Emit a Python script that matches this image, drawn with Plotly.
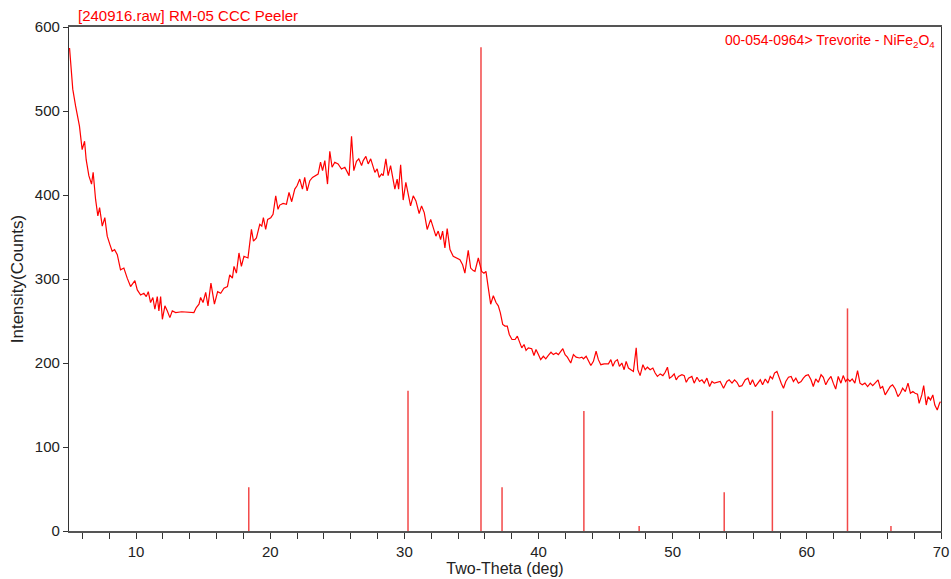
import plotly.graph_objects as go

# Measured pattern (two-theta in deg, intensity in counts)
two_theta = [
    5.04, 5.28, 5.49, 5.78, 5.98, 6.16, 6.28, 6.48, 6.68, 6.80, 6.98, 7.15, 7.28, 7.48, 7.67, 7.85,
    8.05, 8.22, 8.40, 8.60, 8.84, 9.09, 9.34, 9.59, 9.91, 10.09, 10.34, 10.58, 10.76, 10.91, 11.08,
    11.25, 11.40, 11.58, 11.70, 11.83, 11.96, 12.15, 12.33, 12.52, 12.70, 12.95, 13.40, 13.90, 14.31,
    14.49, 14.69, 14.81, 14.99, 15.19, 15.36, 15.58, 15.84, 16.08, 16.31, 16.55, 16.81, 16.98, 17.18,
    17.30, 17.48, 17.67, 17.85, 18.04, 18.34, 18.60, 18.75, 18.97, 19.22, 19.37, 19.49, 19.66, 19.81,
    20.04, 20.21, 20.41, 20.58, 20.71, 20.96, 21.21, 21.40, 21.60, 21.83, 22.00, 22.20, 22.40, 22.57,
    22.75, 22.95, 23.15, 23.40, 23.57, 23.75, 23.90, 24.07, 24.27, 24.44, 24.61, 24.81, 25.06, 25.31,
    25.56, 25.69, 25.88, 26.06, 26.23, 26.43, 26.60, 26.81, 26.93, 27.13, 27.30, 27.49, 27.67, 27.80,
    27.97, 28.12, 28.30, 28.42, 28.62, 28.79, 28.97, 29.12, 29.29, 29.46, 29.57, 29.72, 29.91, 30.11,
    30.28, 30.46, 30.66, 30.86, 31.10, 31.28, 31.48, 31.70, 31.96, 32.15, 32.35, 32.52, 32.70, 32.85,
    33.02, 33.19, 33.40, 33.64, 33.90, 34.14, 34.34, 34.51, 34.76, 34.94, 35.13, 35.26, 35.51, 35.76,
    35.93, 36.08, 36.25, 36.43, 36.63, 36.83, 37.00, 37.15, 37.33, 37.50, 37.67, 37.82, 38.02, 38.25,
    38.42, 38.57, 38.75, 38.92, 39.07, 39.24, 39.49, 39.66, 39.81, 39.99, 40.16, 40.36, 40.54, 40.73,
    40.93, 41.10, 41.31, 41.48, 41.66, 41.81, 41.98, 42.15, 42.40, 42.60, 42.80, 43.05, 43.23, 43.35,
    43.55, 43.72, 43.90, 44.09, 44.29, 44.46, 44.64, 44.89, 45.21, 45.39, 45.54, 45.71, 45.88, 46.03,
    46.21, 46.38, 46.53, 46.70, 46.88, 47.07, 47.28, 47.40, 47.57, 47.78, 47.95, 48.12, 48.32, 48.52,
    48.69, 48.86, 49.07, 49.27, 49.44, 49.61, 49.76, 49.94, 50.11, 50.26, 50.43, 50.69, 50.86, 51.01,
    51.18, 51.43, 51.60, 51.81, 52.00, 52.18, 52.35, 52.55, 52.75, 52.93, 53.10, 53.37, 53.54, 53.79,
    54.04, 54.21, 54.42, 54.61, 54.79, 54.96, 55.16, 55.41, 55.61, 55.78, 55.95, 56.16, 56.36, 56.53,
    56.70, 56.90, 57.10, 57.27, 57.44, 57.59, 57.77, 57.94, 58.09, 58.26, 58.43, 58.63, 58.83, 59.00,
    59.18, 59.37, 59.57, 59.74, 59.92, 60.11, 60.31, 60.48, 60.66, 60.86, 61.06, 61.23, 61.41, 61.60,
    61.80, 61.97, 62.15, 62.34, 62.54, 62.71, 62.89, 63.04, 63.21, 63.38, 63.58, 63.78, 63.96, 64.13,
    64.33, 64.53, 64.73, 64.91, 65.10, 65.31, 65.48, 65.65, 65.84, 66.04, 66.22, 66.39, 66.59, 66.79,
    66.97, 67.14, 67.34, 67.54, 67.72, 67.90, 68.07, 68.25, 68.37, 68.57, 68.71, 68.90, 69.04, 69.22,
    69.39, 69.54, 69.72, 69.89, 69.96,
]
counts = [
    575, 526, 506, 482, 454, 464, 442, 423, 413, 427, 395, 375, 385, 363, 373, 351,
    341, 333, 335, 329, 311, 313, 301, 291, 298, 287, 281, 283, 279, 285, 272,
    278, 264, 279, 262, 279, 252, 268, 262, 254, 262, 260, 261, 260, 260,
    266, 270, 278, 272, 284, 268, 295, 270, 285, 283, 289, 291, 305, 301,
    315, 307, 331, 315, 327, 325, 359, 345, 349, 365, 363, 373, 359, 371,
    373, 377, 399, 383, 388, 390, 389, 403, 392, 407, 411, 419, 407, 421,
    405, 417, 421, 423, 425, 439, 429, 441, 413, 452, 433, 439, 437, 431,
    433, 429, 423, 470, 429, 440, 443, 435, 441, 446, 437, 443, 435, 427,
    431, 421, 425, 423, 443, 423, 435, 420, 407, 419, 407, 436, 394, 415,
    401, 387, 399, 393, 378, 387, 379, 359, 371, 361, 351, 357, 347, 357,
    337, 360, 335, 327, 325, 323, 317, 307, 334, 313, 310, 309, 325, 309,
    307, 309, 290, 270, 280, 272, 268, 260, 246, 244, 244, 234, 228, 228,
    232, 226, 218, 222, 215, 218, 217, 209, 216, 210, 204, 208, 205, 209,
    213, 210, 212, 210, 214, 217, 210, 207, 200, 210, 207, 206, 207, 205,
    208, 202, 197, 202, 214, 204, 198, 199, 199, 204, 196, 202, 204, 196,
    200, 192, 202, 194, 192, 190, 218, 192, 185, 198, 192, 195, 192, 194,
    188, 184, 187, 185, 189, 195, 182, 184, 187, 180, 184, 186, 185, 177,
    182, 184, 176, 183, 178, 180, 176, 182, 172, 178, 176, 177, 178, 170,
    178, 180, 176, 180, 177, 172, 173, 180, 182, 174, 180, 172, 177, 180,
    174, 181, 176, 184, 181, 188, 190, 181, 176, 170, 178, 183, 184, 178,
    182, 176, 178, 182, 185, 186, 180, 172, 181, 177, 186, 183, 174, 180,
    184, 176, 169, 184, 176, 185, 178, 181, 178, 181, 176, 191, 176, 174,
    176, 172, 176, 173, 177, 180, 170, 172, 162, 168, 172, 174, 169, 160,
    164, 170, 166, 176, 164, 166, 164, 163, 152, 162, 173, 150, 160, 156,
    162, 150, 144, 152, 154,
]

# Reference pattern 00-054-0964 Trevorite - NiFe2O4 (stick positions / heights)
ref_two_theta = [18.4, 30.27, 35.71, 37.28, 43.38, 47.5, 53.84, 57.43, 63.03, 66.27]
ref_counts = [52, 167, 576, 52, 143, 6, 46, 143, 265, 6]

x_ticks = [10, 20, 30, 40, 50, 60, 70]
y_ticks = [0, 100, 200, 300, 400, 500, 600]

title_text = "[240916.raw] RM-05 CCC Peeler"
ref_label = "00-054-0964> Trevorite - NiFe<sub>2</sub>O<sub>4</sub>"

stick_x, stick_y = [], []
for p, h in zip(ref_two_theta, ref_counts):
    stick_x += [p, p, None]
    stick_y += [0, h, None]

fig = go.Figure()
fig.add_trace(go.Scatter(x=stick_x, y=stick_y, mode="lines",
                         line=dict(color="rgba(240,40,40,0.85)", width=1.5),
                         hoverinfo="skip", showlegend=False))
fig.add_trace(go.Scatter(x=two_theta, y=counts, mode="lines",
                         line=dict(color="#ff0000", width=1.2),
                         showlegend=False))

font_family = "Liberation Sans, Arial, sans-serif"

fig.update_layout(
    width=951, height=579,
    margin=dict(l=69, r=10, t=27, b=48),
    paper_bgcolor="white", plot_bgcolor="white",
    font=dict(family=font_family, size=15, color="#222"),
    showlegend=False,
    annotations=[
        dict(text=title_text, xref="paper", yref="paper", x=0.008, y=1.0,
             xanchor="left", yanchor="bottom", yshift=1, showarrow=False,
             font=dict(family=font_family, size=15, color="#ff0000")),
        dict(text=ref_label, xref="paper", yref="paper", x=0.995, y=0.972,
             xanchor="right", yanchor="middle", showarrow=False,
             font=dict(family=font_family, size=14, color="#ff0000")),
    ],
)

fig.update_xaxes(
    range=[5, 70], tickmode="array", tickvals=x_ticks, automargin=False,
    ticks="outside", ticklen=6, tickwidth=1, tickcolor="#333",
    minor=dict(dtick=2, tick0=0, ticks="outside", ticklen=6, tickwidth=1, tickcolor="#333", showgrid=False),
    showgrid=False, zeroline=False,
    showline=True, linecolor="#555", linewidth=2, mirror=True,
    title=dict(text="Two-Theta (deg)", font=dict(size=16, color="#222"), standoff=3),
    tickfont=dict(size=15, color="#222"),
)
fig.update_yaxes(
    range=[0, 600], tickmode="array", tickvals=y_ticks, automargin=False,
    ticks="outside", ticklen=5, tickwidth=1, tickcolor="#333",
    showgrid=False, zeroline=False,
    showline=True, linecolor="#333", linewidth=1.2, mirror=True,
    title=dict(text="Intensity(Counts)", font=dict(size=17, color="#222"), standoff=6),
    tickfont=dict(size=15, color="#222"),
)

fig.write_html("out.html")
